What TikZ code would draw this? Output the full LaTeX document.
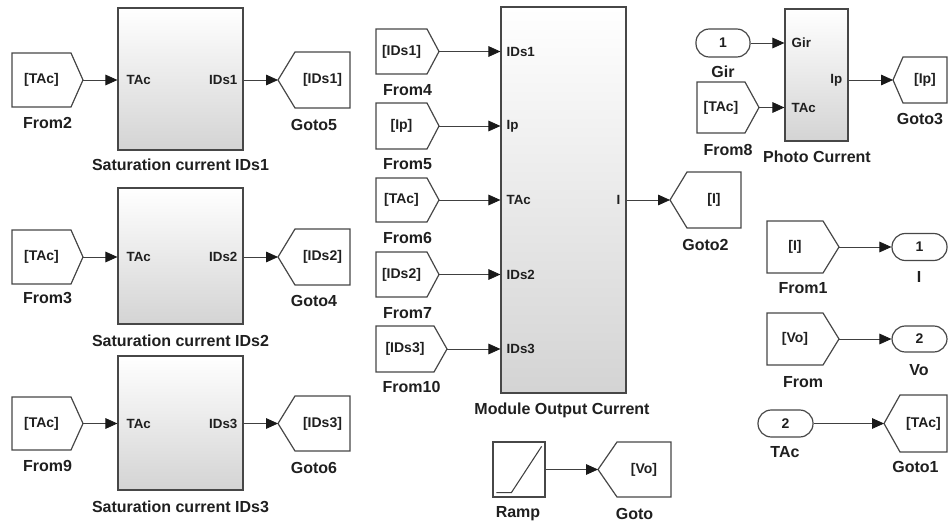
\documentclass[tikz,border=0pt]{standalone}
\usepackage{fontspec}
\setmainfont{Liberation Sans}
\usetikzlibrary{arrows.meta,calc,shadows}
\newdimen\pxu \pxu=0.75pt
\tikzset{
  blkline/.style={draw=black!72, line width=0.9pt},
  sub/.style={blkline, top color=white, bottom color=black!17, inner sep=0pt,
    drop shadow={shadow xshift=1pt, shadow yshift=-1pt, opacity=0.3}},
  lbl/.style={font=\bfseries\fontsize{12}{14}\selectfont, inner sep=0pt, text=black!88},
  txt/.style={font=\bfseries\fontsize{10.5}{12}\selectfont, inner sep=0pt, text=black!88},
  port/.style={font=\bfseries\fontsize{10}{12}\selectfont, inner sep=0pt, text=black!88},
  iop/.style={blkline, fill=white, rounded corners=10pt, inner sep=0pt,
    font=\bfseries\fontsize{10.5}{12}\selectfont, text=black!88},
  sig/.style={draw=black!75, line width=0.6pt, -{Triangle[length=9pt,width=8pt,color=black!90]}},
}
% name, xleft, xtip, ytop, ybot, text, label y, label, tip length
\newcommand\fromblk[9]{%
  \draw[blkline, fill=white] (#2,#4) -- ({#3-#9},#4) -- (#3,{(#4+#5)/2})
     -- ({#3-#9},#5) -- (#2,#5) -- cycle;
  \node[txt] (#1) at ({(#2+#3-#9)/2},{(#4+#5)/2}) {#6};
  \coordinate (#1p) at (#3,{(#4+#5)/2});
  \node[lbl] (#1l) at ({(#2+#3)/2},#7) {#8};
}
% name, xtip, xright, ytop, ybot, text, label y, label, tip length
\newcommand\gotoblk[9]{%
  \draw[blkline, fill=white] (#2,{(#4+#5)/2}) -- ({#2+#9},#4) -- (#3,#4)
     -- (#3,#5) -- ({#2+#9},#5) -- cycle;
  \node[txt] (#1) at ({(#2+#9+#3)/2},{(#4+#5)/2}) {#6};
  \coordinate (#1p) at (#2,{(#4+#5)/2});
  \node[lbl] (#1l) at ({(#2+#3)/2},#7) {#8};
}
\begin{document}
\begin{tikzpicture}[x=0.75pt, y=-0.75pt]
\useasboundingbox (0,0) rectangle (948,527);

% ---------- left column: saturation current blocks ----------
\node[sub, minimum width=125\pxu, minimum height=142\pxu] (sat1) at (180.5,79) {};
\node[sub, minimum width=125\pxu, minimum height=136\pxu] (sat2) at (180.5,256) {};
\node[sub, minimum width=125\pxu, minimum height=134\pxu] (sat3) at (180.5,423) {};
\node[lbl] (sat1l) at (180.5,165) {Saturation current IDs1};
\node[lbl] (sat2l) at (180.5,341) {Saturation current IDs2};
\node[lbl] (sat3l) at (180.5,507) {Saturation current IDs3};

\fromblk{from2}{12}{83}{53}{107}{[TAc]}{123}{From2}{12}
\fromblk{from3}{12}{83}{230}{284}{[TAc]}{298}{From3}{12}
\fromblk{from9}{12}{83}{397}{450}{[TAc]}{466}{From9}{12}
\gotoblk{goto5}{278}{350}{52}{108}{[IDs1]}{125}{Goto5}{17}
\gotoblk{goto4}{278}{350}{229}{285}{[IDs2]}{301}{Goto4}{17}
\gotoblk{goto6}{278}{350}{396}{451}{[IDs3]}{468}{Goto6}{17}

\node[port, anchor=west] (sat1i) at ($(sat1.west |- from2p)+(9,0)$) {TAc};
\node[port, anchor=east] (sat1o) at ($(sat1.east |- goto5p)+(-6,0)$) {IDs1};
\node[port, anchor=west] (sat2i) at ($(sat2.west |- from3p)+(9,0)$) {TAc};
\node[port, anchor=east] (sat2o) at ($(sat2.east |- goto4p)+(-6,0)$) {IDs2};
\node[port, anchor=west] (sat3i) at ($(sat3.west |- from9p)+(9,0)$) {TAc};
\node[port, anchor=east] (sat3o) at ($(sat3.east |- goto6p)+(-6,0)$) {IDs3};

\draw[sig] (from2p) -- (from2p -| sat1.west);
\draw[sig] (goto5p -| sat1.east) -- (goto5p);
\draw[sig] (from3p) -- (from3p -| sat2.west);
\draw[sig] (goto4p -| sat2.east) -- (goto4p);
\draw[sig] (from9p) -- (from9p -| sat3.west);
\draw[sig] (goto6p -| sat3.east) -- (goto6p);

% ---------- middle: module output current ----------
\node[sub, minimum width=125\pxu, minimum height=386\pxu] (mod) at (563.5,200) {};
\node[lbl] (modl) at (562,410) {Module Output Current};

\fromblk{from4}{376}{439}{29}{74}{[IDs1]}{90}{From4}{12}
\fromblk{from5}{376}{439}{103}{149}{[Ip]}{164}{From5}{12}
\fromblk{from6}{376}{439}{178}{222}{[TAc]}{238}{From6}{12}
\fromblk{from7}{376}{439}{252}{297}{[IDs2]}{313}{From7}{12}
\fromblk{from10}{376}{447}{326}{372}{[IDs3]}{387}{From10}{13}
\gotoblk{goto2}{670}{741}{172}{228}{[I]}{245}{Goto2}{17}

\node[port, anchor=west] (modi1) at ($(mod.west |- from4p)+(6,0)$) {IDs1};
\node[port, anchor=west] (modi2) at ($(mod.west |- from5p)+(6,0)$) {Ip};
\node[port, anchor=west] (modi3) at ($(mod.west |- from6p)+(6,0)$) {TAc};
\node[port, anchor=west] (modi4) at ($(mod.west |- from7p)+(6,0)$) {IDs2};
\node[port, anchor=west] (modi5) at ($(mod.west |- from10p)+(6,0)$) {IDs3};
\node[port, anchor=east] (modo) at ($(mod.east |- goto2p)+(-6,0)$) {I};

\draw[sig] (from4p) -- (from4p -| mod.west);
\draw[sig] (from5p) -- (from5p -| mod.west);
\draw[sig] (from6p) -- (from6p -| mod.west);
\draw[sig] (from7p) -- (from7p -| mod.west);
\draw[sig] (from10p) -- (from10p -| mod.west);
\draw[sig] (goto2p -| mod.east) -- (goto2p);

% ---------- ramp ----------
\node[blkline, fill=white, minimum width=52\pxu, minimum height=55\pxu, inner sep=0pt] (ramp) at (519,469.5) {};
\draw[draw=black!75, line width=0.8pt] ($(ramp.south west)+(4,-5)$) -- ($(ramp.south west)+(19,-5)$) -- ($(ramp.north east)+(-4,5)$);
\node[lbl] (rampl) at (518,514) {Ramp};
\gotoblk{gotov}{598}{671}{442}{497}{[Vo]}{514}{Goto}{19}
\draw[sig] (gotovp -| ramp.east) -- (gotovp);

% ---------- photo current ----------
\node[sub, minimum width=63\pxu, minimum height=132\pxu] (photo) at (816.5,75) {};
\node[lbl] (photol) at (817,157) {Photo Current};
\node[iop, minimum width=54\pxu, minimum height=28\pxu] (gir) at (723,43) {1};
\node[lbl] (girl) at (723,72) {Gir};
\fromblk{from8}{697}{759}{82}{133}{[TAc]}{150}{From8}{14}
\gotoblk{goto3}{893}{947}{57}{103}{[Ip]}{119}{Goto3}{10}

\node[port, anchor=west] (phi1) at ($(photo.west |- gir)+(7,0)$) {Gir};
\node[port, anchor=west] (phi2) at ($(photo.west |- from8p)+(7,0)$) {TAc};
\node[port, anchor=east] (pho) at ($(photo.east |- goto3p)+(-6,0)$) {Ip};

\draw[sig] (gir.east) -- (gir.east -| photo.west);
\draw[sig] (from8p) -- (from8p -| photo.west);
\draw[sig] (goto3p -| photo.east) -- (goto3p);

% ---------- right column: outputs ----------
\fromblk{from1}{767}{839}{221}{273}{[I]}{288}{From1}{16}
\node[iop, minimum width=55\pxu, minimum height=27\pxu] (out1) at (919.5,247) {1};
\node[lbl] (out1l) at (919,277) {I};
\draw[sig] (from1p) -- (from1p -| out1.west);

\fromblk{fromv}{767}{839}{313}{365}{[Vo]}{382}{From}{16}
\node[iop, minimum width=55\pxu, minimum height=26\pxu] (out2) at (919.5,339) {2};
\node[lbl] (out2l) at (919,370) {Vo};
\draw[sig] (fromvp) -- (fromvp -| out2.west);

\node[iop, minimum width=55\pxu, minimum height=27\pxu] (in2) at (785.5,423.5) {2};
\node[lbl] (in2l) at (785,452) {TAc};
\gotoblk{goto1}{884}{947}{395}{452}{[TAc]}{467}{Goto1}{16}
\draw[sig] (in2.east) -- (goto1p);
\end{tikzpicture}
\end{document}
